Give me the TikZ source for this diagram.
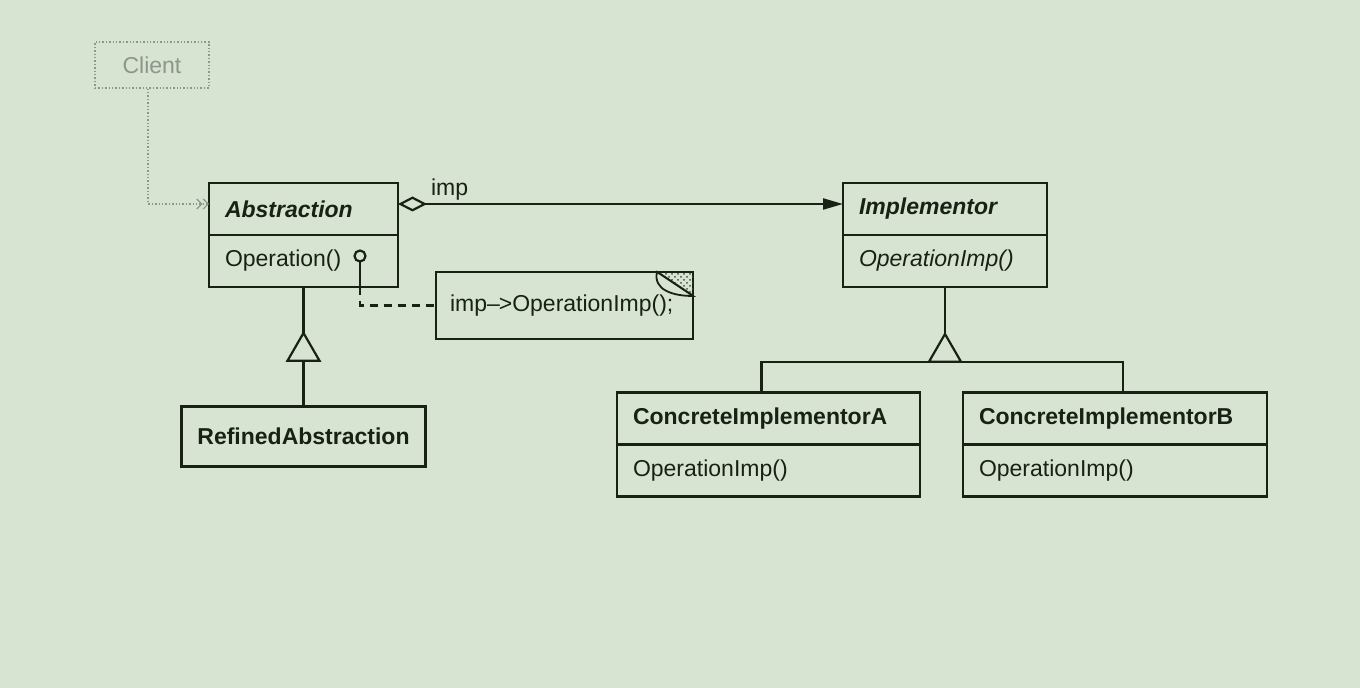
\documentclass[tikz,border=0pt]{standalone}
\usepackage{fontspec}
\setmainfont{Liberation Sans}
\usetikzlibrary{positioning}
\usetikzlibrary{shapes.geometric}
\usetikzlibrary{arrows.meta}
\usetikzlibrary{patterns}
\definecolor{paper}{RGB}{216,228,210}
\definecolor{ink}{RGB}{24,34,20}
\definecolor{ghost}{RGB}{140,150,138}
\newcommand{\umlsize}{\fontsize{11.5}{13}\selectfont}
\tikzstyle{classhead} = [draw=ink, text=ink, rectangle, line width=1.4pt,
    minimum height=26pt, inner xsep=8pt, outer sep=0pt, align=left,
    font=\umlsize\bfseries\itshape]
\tikzstyle{concretehead} = [classhead, font=\umlsize\bfseries]
\tikzstyle{classops} = [classhead, font=\umlsize]
\tikzstyle{notebox} = [classops, inner xsep=7pt, minimum height=33.5pt]
\tikzstyle{clientbox} = [draw=ghost, text=ghost, rectangle, densely dotted,
    line width=0.7pt, minimum width=57pt, minimum height=23pt, font=\umlsize]
\tikzstyle{gen} = [draw=ink, fill=paper, regular polygon, regular polygon sides=3,
    minimum size=18.5pt, inner sep=0pt, outer sep=0pt, line width=1.1pt]
\tikzstyle{lolli} = [draw=ink, circle, minimum size=5.5pt, inner sep=0pt,
    outer sep=0pt, line width=1.1pt]
\tikzstyle{link} = [draw=ink, line width=1.1pt]

\begin{document}
\begin{tikzpicture}[x=0.5pt, y=-0.5pt, node distance=23pt]
    \fill [paper] (0,0) rectangle (1360,688);
    \useasboundingbox (0,0) rectangle (1360,688);
    % We start by placing the two class hierarchies, header over operations
    \node [clientbox] (client) at (152,65) {Client};
    \node [classhead, text width=78.5pt] (abs) at (303.5,209) {Abstraction};
    \node [classops, text width=78.5pt, below=0pt of abs] (absops) {Operation()};
    \node [lolli] (opdot) at (360,256) {};
    \node [gen, below=of absops] (genabs) {};
    \node [concretehead, minimum width=121pt, minimum height=30pt,
        below=of genabs] (ra) {RefinedAbstraction};
    \node [notebox, text width=114.5pt] (note) at (564.5,305.5) {imp--\kern-0.5pt>OperationImp();};

    \node [classhead, text width=86pt] (imp) at (945,209) {Implementor};
    \node [classops, text width=86pt, font=\umlsize\itshape,
        below=0pt of imp] (impops) {OperationImp()};
    \node [gen, below=23.5pt of impops] (genimp) {};
    \node [concretehead, text width=135.5pt] (cia) at (768.5,418.5) {ConcreteImplementorA};
    \node [classops, text width=135.5pt, below=0pt of cia] (ciaops) {OperationImp()};
    \node [concretehead, text width=136pt] (cib) at (1115,418.5) {ConcreteImplementorB};
    \node [classops, text width=136pt, below=0pt of cib] (cibops) {OperationImp()};

    % The folded corner of the note is drawn on top of its frame
    \fill [pattern=crosshatch dots, pattern color=ink!80]
        ([xshift=-18pt]note.north east) -- (note.north east)
        -- ([yshift=-12pt]note.north east) -- cycle;
    \draw [link] ([xshift=-18pt]note.north east)
        -- ([yshift=-12pt]note.north east);
    \draw [link, line width=0.9pt, fill=paper] ([xshift=-18pt]note.north east)
        .. controls +(-2pt,-9pt) and +(-10pt,0pt) .. ([yshift=-12pt]note.north east)
        -- cycle;

    % Once the nodes are placed, connecting them is easy.
    \draw [ghost, densely dotted, line width=0.7pt,
        -{Straight Barb[length=2.5pt,width=5pt,line width=0.6pt] Straight Barb[length=2.5pt,width=5pt,line width=0.6pt]}]
        ([xshift=-2pt]client.south) |- ([yshift=2.5pt]abs.west);
    \draw [link, {Diamond[open,length=14.5pt,width=7.5pt]}-{Triangle[length=10pt,width=5.5pt]}]
        ([yshift=2.5pt]abs.east) -- node [at start, anchor=base west, xshift=16pt,
        yshift=4pt, inner sep=0pt, text=ink, font=\umlsize] {imp} ([yshift=2.5pt]imp.west);
    \draw [link] (opdot.south) -- (opdot |- absops.south);
    \draw [link, dash pattern=on 4pt off 3pt] (opdot |- absops.south) |- (note.west);
    \draw [link] (absops.south) -- (genabs.north);
    \draw [link] (genabs.south) -- (ra.north);
    \draw [link] (impops.south) -- (genimp.north);
    \draw [link] ([xshift=-3.5pt]cia.north) |- (genimp.south) -| ([xshift=4pt]cib.north);
\end{tikzpicture}
\end{document}
